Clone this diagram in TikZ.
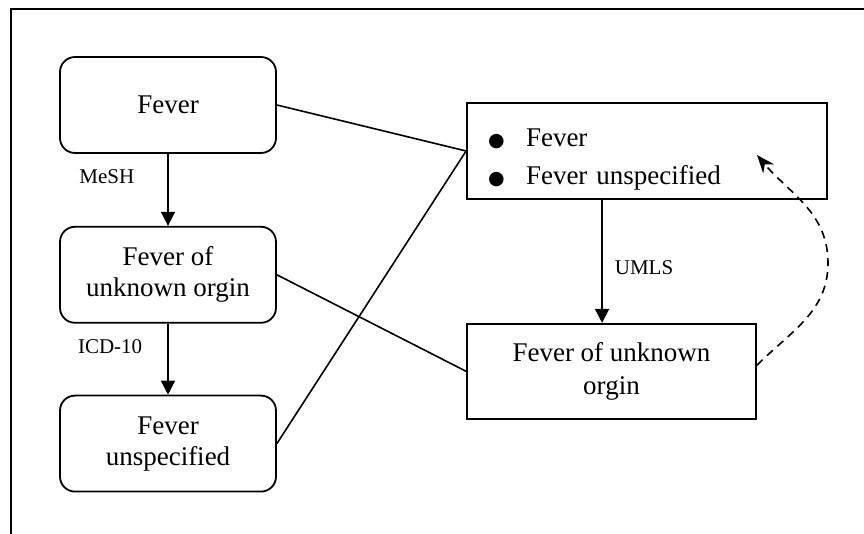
\documentclass[tikz,border=0pt]{standalone}
\usepackage{fontspec}
\setmainfont{Liberation Serif}
\newfontfamily\dotfont{DejaVu Sans}
\usetikzlibrary{positioning, arrows.meta}

\newcommand{\listdot}{\makebox[19pt][l]{\dotfont\fontsize{9.5}{12}\selectfont ●}}

\begin{document}
\begin{tikzpicture}[
roundbox/.style={rectangle, rounded corners=7.5pt, draw=black, line width=0.9pt, minimum width=108pt, minimum height=48pt, inner sep=0pt, align=center, font=\fontsize{13.5}{15.5}\selectfont},
listbox/.style={rectangle, draw=black, line width=0.9pt, minimum width=180pt, minimum height=48pt, text width=159pt, text height=17pt, inner xsep=10.5pt, inner ysep=0pt, align=left, font=\fontsize{13.5}{16}\selectfont},
conceptbox/.style={rectangle, draw=black, line width=0.9pt, minimum width=144.5pt, minimum height=47.5pt, inner sep=0pt, align=center, font=\fontsize{13.5}{16.5}\selectfont},
tag/.style={inner sep=0pt, font=\fontsize{10.5}{12}\selectfont},
link/.style={line width=0.8pt},
>={Triangle[length=7pt, width=7pt]}
]

\useasboundingbox (0,0) rectangle (432pt,-267pt);
% open frame round the figure
\draw[line width=1pt] (432pt,-4.5pt) -- (5.5pt,-4.5pt) -- (5.5pt,-267pt);

\node[roundbox] (fever) at (84pt,-52.5pt) {Fever};
\node[roundbox] (fever_unknown) [below=36pt of fever] {Fever of\\unknown orgin};
\node[roundbox] (fever_unspec) [below=35.5pt of fever_unknown] {Fever\\unspecified};

\node[listbox] (umls_list) at (323.5pt,-75.5pt) {\listdot Fever\\[3pt]\listdot Fever unspecified};
\node[conceptbox] (umls_concept) [below right=61.5pt and 0pt of umls_list.south west] {Fever of unknown\\orgin};
\coordinate (back_turn) at (414pt,-131.5pt);
\coordinate (back_tip) at (378.5pt,-77.5pt);

\draw[->, link] (fever) -- node[tag, pos=0.31, left=16.5pt] {MeSH} (fever_unknown);
\draw[->, link] (fever_unknown) -- node[tag, pos=0.32, left=12.5pt] {ICD-10} (fever_unspec);
\draw[->, link] ([xshift=68pt]umls_list.south west) -- node[tag, pos=0.55, right=6pt] {UMLS} ([xshift=68pt]umls_concept.north west);

\draw[link] (fever.east) -- (umls_list.west);
\draw[link] (fever_unspec.east) -- (umls_list.west);
\draw[link] (fever_unknown.east) -- (umls_concept.west);

\draw[link, dash pattern=on 4pt off 3pt, -{Stealth[length=9pt, width=7pt]}] ([yshift=3pt]umls_concept.east) to[out=45, in=-90] (back_turn) to[out=90, in=-50] (back_tip);

\end{tikzpicture}
\end{document}
